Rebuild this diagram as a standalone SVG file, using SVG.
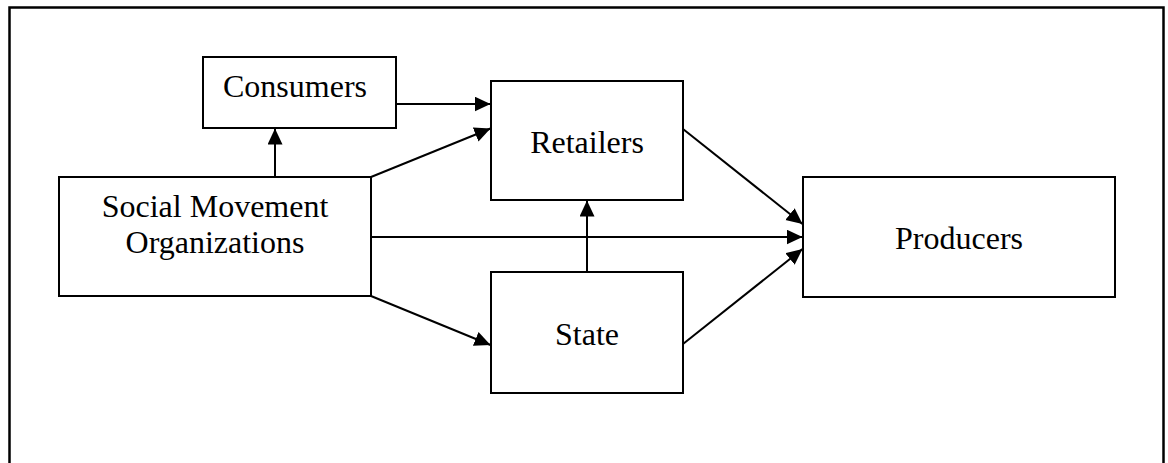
<svg xmlns="http://www.w3.org/2000/svg" width="1168" height="463" viewBox="0 0 1168 463">
<style>
.box{fill:#fff;stroke:#000;stroke-width:2}
.lbl{font-family:"Liberation Serif","Times New Roman",serif;font-size:32px;fill:#000;text-anchor:middle}
.c{stroke:#000;stroke-width:2;fill:none;marker-end:url(#ah)}
</style>
<defs>
<marker id="ah" markerUnits="userSpaceOnUse" markerWidth="18" markerHeight="16" refX="16" refY="7.5" orient="auto">
<path d="M0,0 L16,7.5 L0,15 Z" fill="#000"/>
</marker>
</defs>
<rect x="9.5" y="7.5" width="1154" height="480" fill="#fff" stroke="#000" stroke-width="2.5"/>
<g id="connectors">
<line class="c" x1="275" y1="177" x2="275" y2="128.5"/>
<line class="c" x1="396" y1="104" x2="490.5" y2="104"/>
<line class="c" x1="371" y1="177" x2="490.5" y2="128.5"/>
<line class="c" x1="371" y1="237" x2="802.5" y2="237"/>
<line class="c" x1="371" y1="296" x2="490.5" y2="345"/>
<line class="c" x1="587" y1="272" x2="587" y2="200.5"/>
<line class="c" x1="683" y1="129" x2="802.5" y2="224"/>
<line class="c" x1="683" y1="344" x2="802.5" y2="249"/>
</g>
<g id="consumers">
<rect class="box" x="203" y="57" width="193" height="71"/>
<text class="lbl" x="295" y="97">Consumers</text>
</g>
<g id="smo">
<rect class="box" x="59" y="177" width="312" height="119"/>
<text class="lbl" x="215" y="217">Social Movement</text>
<text class="lbl" x="215" y="253">Organizations</text>
</g>
<g id="retailers">
<rect class="box" x="491" y="81" width="192" height="119"/>
<text class="lbl" x="587" y="153">Retailers</text>
</g>
<g id="state">
<rect class="box" x="491" y="272" width="192" height="121"/>
<text class="lbl" x="587" y="345">State</text>
</g>
<g id="producers">
<rect class="box" x="803" y="177" width="312" height="120"/>
<text class="lbl" x="959" y="249">Producers</text>
</g>
</svg>
